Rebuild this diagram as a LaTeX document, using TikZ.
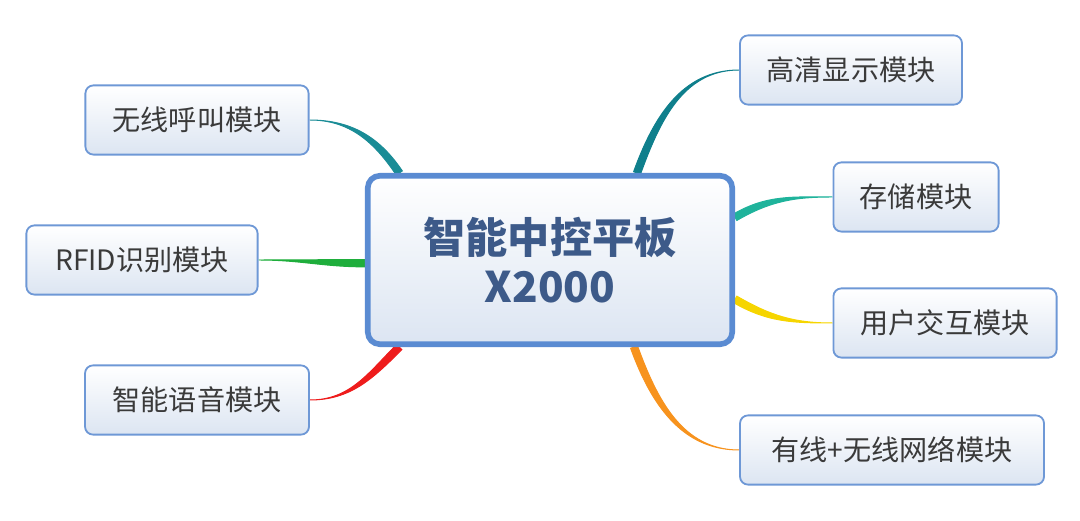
\documentclass[tikz,border=0pt]{standalone}
\usepackage{fontspec}
\setmainfont{Noto Sans CJK SC}
\usepackage{xcolor}
\usetikzlibrary{calc}
\usetikzlibrary{backgrounds}

\definecolor{boxline}{HTML}{6E98D6}
\definecolor{hubline}{HTML}{5A8BD2}
\definecolor{boxbot}{HTML}{DCE5F2}
\definecolor{boxtext}{HTML}{3A3A3A}
\definecolor{hubtext}{HTML}{3D5A89}
\definecolor{callc}{HTML}{1A8C96}
\definecolor{rfidc}{HTML}{1FAE3C}
\definecolor{voicec}{HTML}{EE1C1C}
\definecolor{hdc}{HTML}{0F7F8C}
\definecolor{storec}{HTML}{1FB39B}
\definecolor{uic}{HTML}{F6D500}
\definecolor{netc}{HTML}{F7931E}

\tikzset{
  module/.style={draw=boxline, line width=1.3pt, rounded corners=0.2cm,
    top color=white, bottom color=boxbot, minimum height=1.73cm, inner sep=0pt,
    font=\fontsize{20}{24}\selectfont, text=boxtext},
  centrebox/.style={draw=hubline, line width=4pt, rounded corners=0.3cm,
    top color=white, bottom color=boxbot, minimum width=9.11cm, minimum height=4.21cm,
    inner sep=0pt, align=center, font=\fontsize{30}{35}\selectfont\bfseries, text=hubtext}
}

\begin{document}
\begin{tikzpicture}
\useasboundingbox (0,0) rectangle (27,13.025);
\node[centrebox] (hub) at (13.75,6.525) {智能中控平板\\X2000};
\node[module, minimum width=5.55cm] (hd) at (21.275,11.275) {高清显示模块};
\node[module, minimum width=4.13cm] (store) at (22.9,8.1) {存储模块};
\node[module, minimum width=5.58cm] (ui) at (23.625,4.95) {用户交互模块};
\node[module, minimum width=7.6cm] (net) at (22.3,1.775) {有线+无线网络模块};
\node[module, minimum width=5.58cm] (call) at (4.925,10.025) {无线呼叫模块};
\node[module, minimum width=5.78cm] (rfid) at (3.55,6.525) {RFID识别模块};
\node[module, minimum width=5.6cm] (voice) at (4.925,3.025) {智能语音模块};
% tapered branches, thick at the hub
\begin{scope}[on background layer]
\foreach \a/\o/\i/\t/\c in {150/124/0/call.east/callc, 181/180/0/rfid.east/rfidc,
    210/225/0/voice.east/voicec, 45/70/180/hd.west/hdc, 13/30/180/store.west/storec,
    -12/-30/180/ui.west/uic, -46/-70/180/net.west/netc}
  \filldraw[\c, line width=0.7pt] ($(hub.\a)+({\o+90}:2.6pt)$) to[out=\o,in=\i] (\t)
    to[out=\i,in=\o] ($(hub.\a)+({\o-90}:2.6pt)$) -- cycle;
\end{scope}
\end{tikzpicture}
\end{document}
